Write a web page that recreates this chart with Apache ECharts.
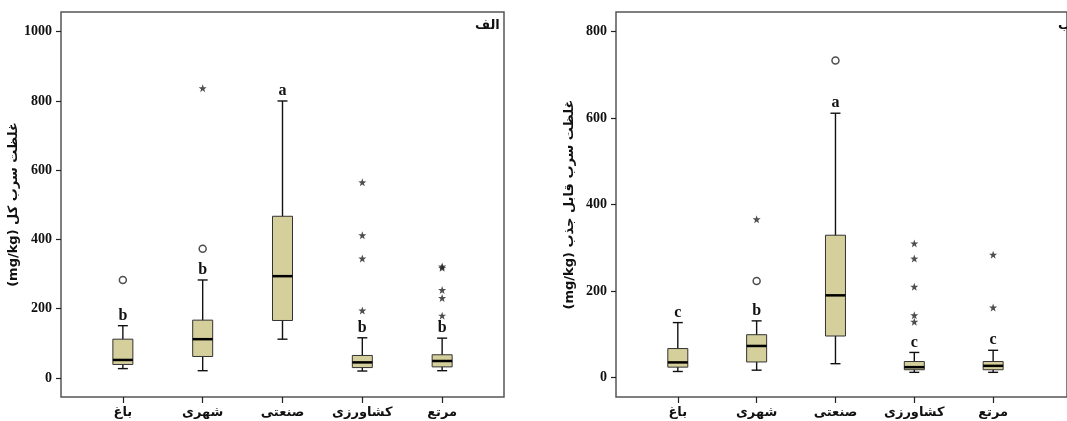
<!DOCTYPE html>
<html>
<head>
<meta charset="utf-8">
<style>
html,body{margin:0;padding:0;background:#fff;}
#chart{width:1067px;height:421px;}
</style>
<script src="https://cdn.jsdelivr.net/npm/echarts@6/dist/echarts.min.js"></script>
</head>
<body>
<div id="chart"></div>
<script>
// ---- data ----
const categories = ['باغ', 'شهری', 'صنعتی', 'کشاورزی', 'مرتع'];

// Panel A (total lead): [min, Q1, median, Q3, max]
const boxA = [
  [27, 39, 52, 112, 151],
  [21, 62, 112, 167, 283],
  [112, 166, 294, 467, 800],
  [20, 30, 45, 65, 116],
  [21, 32, 49, 67, 115]
];
const lettersA = ['b', 'b', 'a', 'b', 'b'];
// outliers: [categoryIndex, value]
const circlesA = [[0, 283], [1, 373]];
const starsA = [[1, 837], [3, 565], [3, 412], [3, 345], [3, 195], [4, 322], [4, 318], [4, 254], [4, 231], [4, 180]];

// Panel B (bioavailable lead)
const boxB = [
  [14, 24, 35, 67, 127],
  [17, 36, 73, 99, 131],
  [32, 96, 190, 329, 611],
  [12, 18, 24, 37, 58],
  [12, 18, 27, 37, 63]
];
const lettersB = ['c', 'b', 'a', 'c', 'c'];
const circlesB = [[1, 223], [2, 733]];
const starsB = [[1, 366], [3, 310], [3, 275], [3, 210], [3, 144], [3, 129], [4, 284], [4, 162]];

const ticksA = [0, 200, 400, 600, 800, 1000];
const ticksB = [0, 200, 400, 600, 800];

const titleA = '(mg/kg) غلظت سرب کل';
const titleB = '(mg/kg) غلظت سرب قابل جذب';
const panelA = 'الف';
const panelB = 'ب';

// ---- styles ----
const serif = '"Liberation Serif", "Times New Roman", serif';
const arabicFont = '"DejaVu Sans", sans-serif';
const boxFill = '#d4cf9b';
const starPath = 'path://M50,0L61.76,33.82L97.55,34.55L69.02,56.18L79.39,90.45L50,70L20.61,90.45L30.98,56.18L2.45,34.55L38.24,33.82Z';

function boxData(arr) {
  return arr.map((d, i) => [i, d[0], d[1], d[2], d[3], d[4]]);
}

function makeRender(letters) {
  return function (params, api) {
    const x = api.value(0);
    const pMin = api.coord([x, api.value(1)]);
    const pQ1 = api.coord([x, api.value(2)]);
    const pMed = api.coord([x, api.value(3)]);
    const pQ3 = api.coord([x, api.value(4)]);
    const pMax = api.coord([x, api.value(5)]);
    const cx = pMin[0];
    const bw = 20, cw = 10;
    const lineStyle = { stroke: '#111', lineWidth: 1.4 };
    return {
      type: 'group',
      children: [
        { type: 'line', shape: { x1: cx, y1: pMin[1], x2: cx, y2: pMax[1] }, style: lineStyle },
        { type: 'line', shape: { x1: cx - cw / 2, y1: pMin[1], x2: cx + cw / 2, y2: pMin[1] }, style: lineStyle },
        { type: 'line', shape: { x1: cx - cw / 2, y1: pMax[1], x2: cx + cw / 2, y2: pMax[1] }, style: lineStyle },
        { type: 'rect', shape: { x: cx - bw / 2, y: pQ3[1], width: bw, height: pQ1[1] - pQ3[1] },
          style: { fill: boxFill, stroke: '#333', lineWidth: 1 } },
        { type: 'line', shape: { x1: cx - bw / 2, y1: pMed[1], x2: cx + bw / 2, y2: pMed[1] },
          style: { stroke: '#000', lineWidth: 2.5 } },
        { type: 'text', style: { text: letters[params.dataIndex], x: cx, y: pMax[1] - 10,
          align: 'center', verticalAlign: 'middle', font: 'bold 16px ' + serif, fill: '#111' } }
      ]
    };
  };
}

function xAxisCfg(gridIndex, min, max) {
  return {
    type: 'value', gridIndex: gridIndex, min: min, max: max, position: 'bottom',
    axisLine: { show: false, onZero: false },
    splitLine: { show: false },
    axisTick: { show: true, customValues: [0, 1, 2, 3, 4], length: 6, lineStyle: { color: '#222', width: 1.2 } },
    axisLabel: { show: true, customValues: [0, 1, 2, 3, 4], margin: 9,
      formatter: v => categories[Math.round(v)] || '',
      fontFamily: arabicFont, fontWeight: 'bold', fontSize: 13, color: '#111' }
  };
}

function yAxisCfg(gridIndex, min, max, ticks, name, gap) {
  return {
    type: 'value', gridIndex: gridIndex, min: min, max: max, position: 'left',
    name: name, nameLocation: 'middle', nameGap: gap, nameRotate: 90,
    nameTextStyle: { fontFamily: arabicFont, fontWeight: 'bold', fontSize: 13, color: '#111' },
    axisLine: { show: false, onZero: false },
    splitLine: { show: false },
    axisTick: { show: true, customValues: ticks, length: 5, lineStyle: { color: '#222', width: 1.2 } },
    axisLabel: { show: true, customValues: ticks, margin: 9, formatter: v => String(v),
      fontFamily: serif, fontWeight: 'bold', fontSize: 14, color: '#111' }
  };
}

function outlierSeries(idx, circles, stars) {
  return [
    { type: 'scatter', xAxisIndex: idx, yAxisIndex: idx, data: circles, symbol: 'circle', symbolSize: 7,
      itemStyle: { color: '#fff', borderColor: '#222', borderWidth: 1.5 }, z: 5 },
    { type: 'scatter', xAxisIndex: idx, yAxisIndex: idx, data: stars, symbol: starPath, symbolSize: 8,
      itemStyle: { color: '#222' }, z: 5 }
  ];
}

const chart = echarts.init(document.getElementById('chart'), null, { renderer: 'canvas' });
chart.setOption({
  animation: false,
  backgroundColor: '#fff',
  grid: [
    { left: 61, top: 12, width: 443, height: 385, show: true, borderColor: '#555', borderWidth: 1.5, backgroundColor: 'transparent' },
    { left: 616, top: 12, width: 460, height: 385, show: true, borderColor: '#555', borderWidth: 1.5, backgroundColor: 'transparent' }
  ],
  xAxis: [xAxisCfg(0, -0.775, 4.775), xAxisCfg(1, -0.784, 4.937)],
  yAxis: [yAxisCfg(0, -55, 1057, ticksA, titleA, 31), yAxisCfg(1, -45, 845, ticksB, titleB, 40)],
  graphic: [
    { type: 'text', left: 475, top: 19, style: { text: panelA, font: 'bold 13px ' + arabicFont, fill: '#111' } },
    { type: 'text', left: 1058, top: 19, style: { text: panelB, font: 'bold 13px ' + arabicFont, fill: '#111' } }
  ],
  series: [
    { type: 'custom', xAxisIndex: 0, yAxisIndex: 0, data: boxData(boxA), renderItem: makeRender(lettersA), z: 3 },
    ...outlierSeries(0, circlesA, starsA),
    { type: 'custom', xAxisIndex: 1, yAxisIndex: 1, data: boxData(boxB), renderItem: makeRender(lettersB), z: 3 },
    ...outlierSeries(1, circlesB, starsB)
  ]
});
</script>
</body>
</html>
